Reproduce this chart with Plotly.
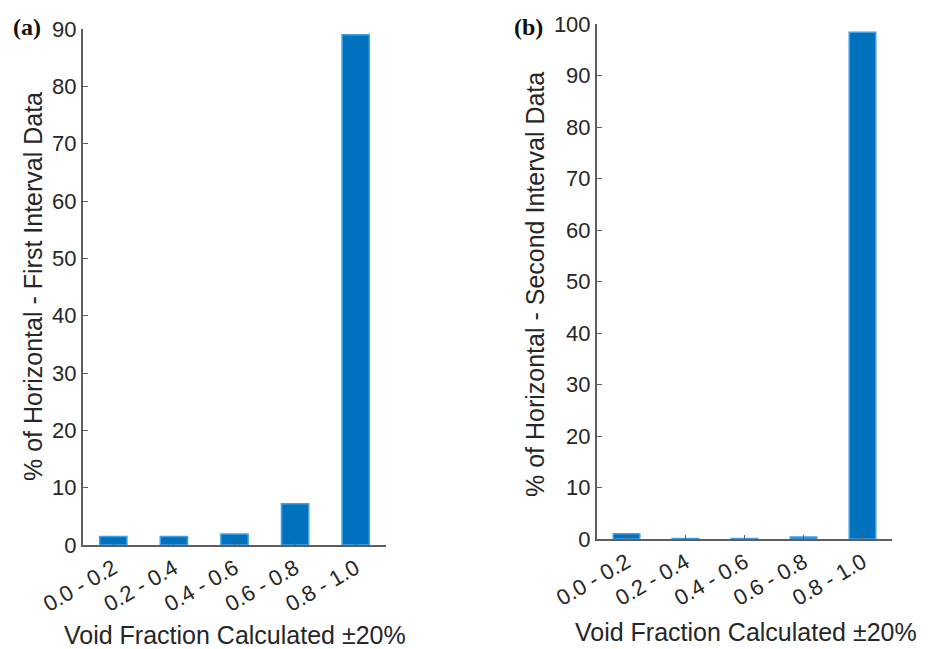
import plotly.graph_objects as go

# Void-fraction bins shared by both panels
categories = ["0.0 - 0.2", "0.2 - 0.4", "0.4 - 0.6", "0.6 - 0.8", "0.8 - 1.0"]

# Percentage of horizontal-flow samples in each bin
first_interval = [1.5, 1.5, 1.9, 7.2, 89.0]
second_interval = [1.0, 0.1, 0.1, 0.4, 98.4]

y_ticks_a = [0, 10, 20, 30, 40, 50, 60, 70, 80, 90]
y_ticks_b = [0, 10, 20, 30, 40, 50, 60, 70, 80, 90, 100]

x_title = "Void Fraction Calculated ±20%"
y_title_a = "% of Horizontal - First Interval Data"
y_title_b = "% of Horizontal - Second Interval Data"

W, H = 933, 649
BAR_FILL = "#0072BD"
BAR_EDGE = "#45a0e3"
AXIS_COLOR = "#5e5e5e"
TEXT_COLOR = "#262626"
FONT = "Liberation Sans, Arial, sans-serif"
SERIF = "Liberation Serif, Times New Roman, serif"

fig = go.Figure()

for vals, xa, ya in [(first_interval, "x", "y"), (second_interval, "x2", "y2")]:
    fig.add_trace(go.Bar(
        x=categories, y=vals, xaxis=xa, yaxis=ya,
        width=0.45, marker=dict(color=BAR_FILL, line=dict(color=BAR_EDGE, width=1.5)),
        showlegend=False,
    ))


def px_x(p):
    return p / W


def px_y(p):
    return 1 - p / H


common_x = dict(
    type="category", range=[-0.5, 4.5], showline=True, linecolor=AXIS_COLOR,
    linewidth=2, ticks="inside", ticklen=4, tickcolor=AXIS_COLOR, tickwidth=1,
    tickangle=-30, tickfont=dict(family=FONT, size=22, color=TEXT_COLOR),
    showgrid=False, zeroline=False, fixedrange=True, automargin=False,
)
common_y = dict(
    showline=True, linecolor=AXIS_COLOR, linewidth=2, ticks="inside", ticklen=5,
    tickcolor=AXIS_COLOR, tickwidth=1, tickfont=dict(family=FONT, size=22, color=TEXT_COLOR),
    showgrid=False, zeroline=False, fixedrange=True, automargin=False,
)


def label(text, x, y, angle=0, size=25, family=FONT, color=TEXT_COLOR):
    return dict(text=text, x=px_x(x), y=px_y(y), xref="paper", yref="paper",
                showarrow=False, textangle=angle, xanchor="center", yanchor="middle",
                font=dict(family=family, size=size, color=color))


fig.update_layout(
    width=W, height=H,
    margin=dict(l=0, r=0, t=0, b=0),
    paper_bgcolor="white", plot_bgcolor="white",
    xaxis=dict(common_x, domain=[px_x(83), px_x(386)], anchor="y"),
    yaxis=dict(common_y, domain=[px_y(545), px_y(29)], anchor="x",
               range=[0, 90], tickvals=y_ticks_a),
    xaxis2=dict(common_x, domain=[px_x(597), px_x(892)], anchor="y2"),
    yaxis2=dict(common_y, domain=[px_y(539), px_y(24)], anchor="x2",
                range=[0, 100], tickvals=y_ticks_b),
    annotations=[
        label(x_title, 235, 635),
        label(x_title, 746, 632),
        label(y_title_a, 33, 287, angle=-90),
        label(y_title_b, 535, 285, angle=-90),
        label("<b>(a)</b>", 27, 27, size=24, family=SERIF, color="#111111"),
        label("<b>(b)</b>", 528, 27, size=24, family=SERIF, color="#111111"),
    ],
)

fig.write_html("out.html")
